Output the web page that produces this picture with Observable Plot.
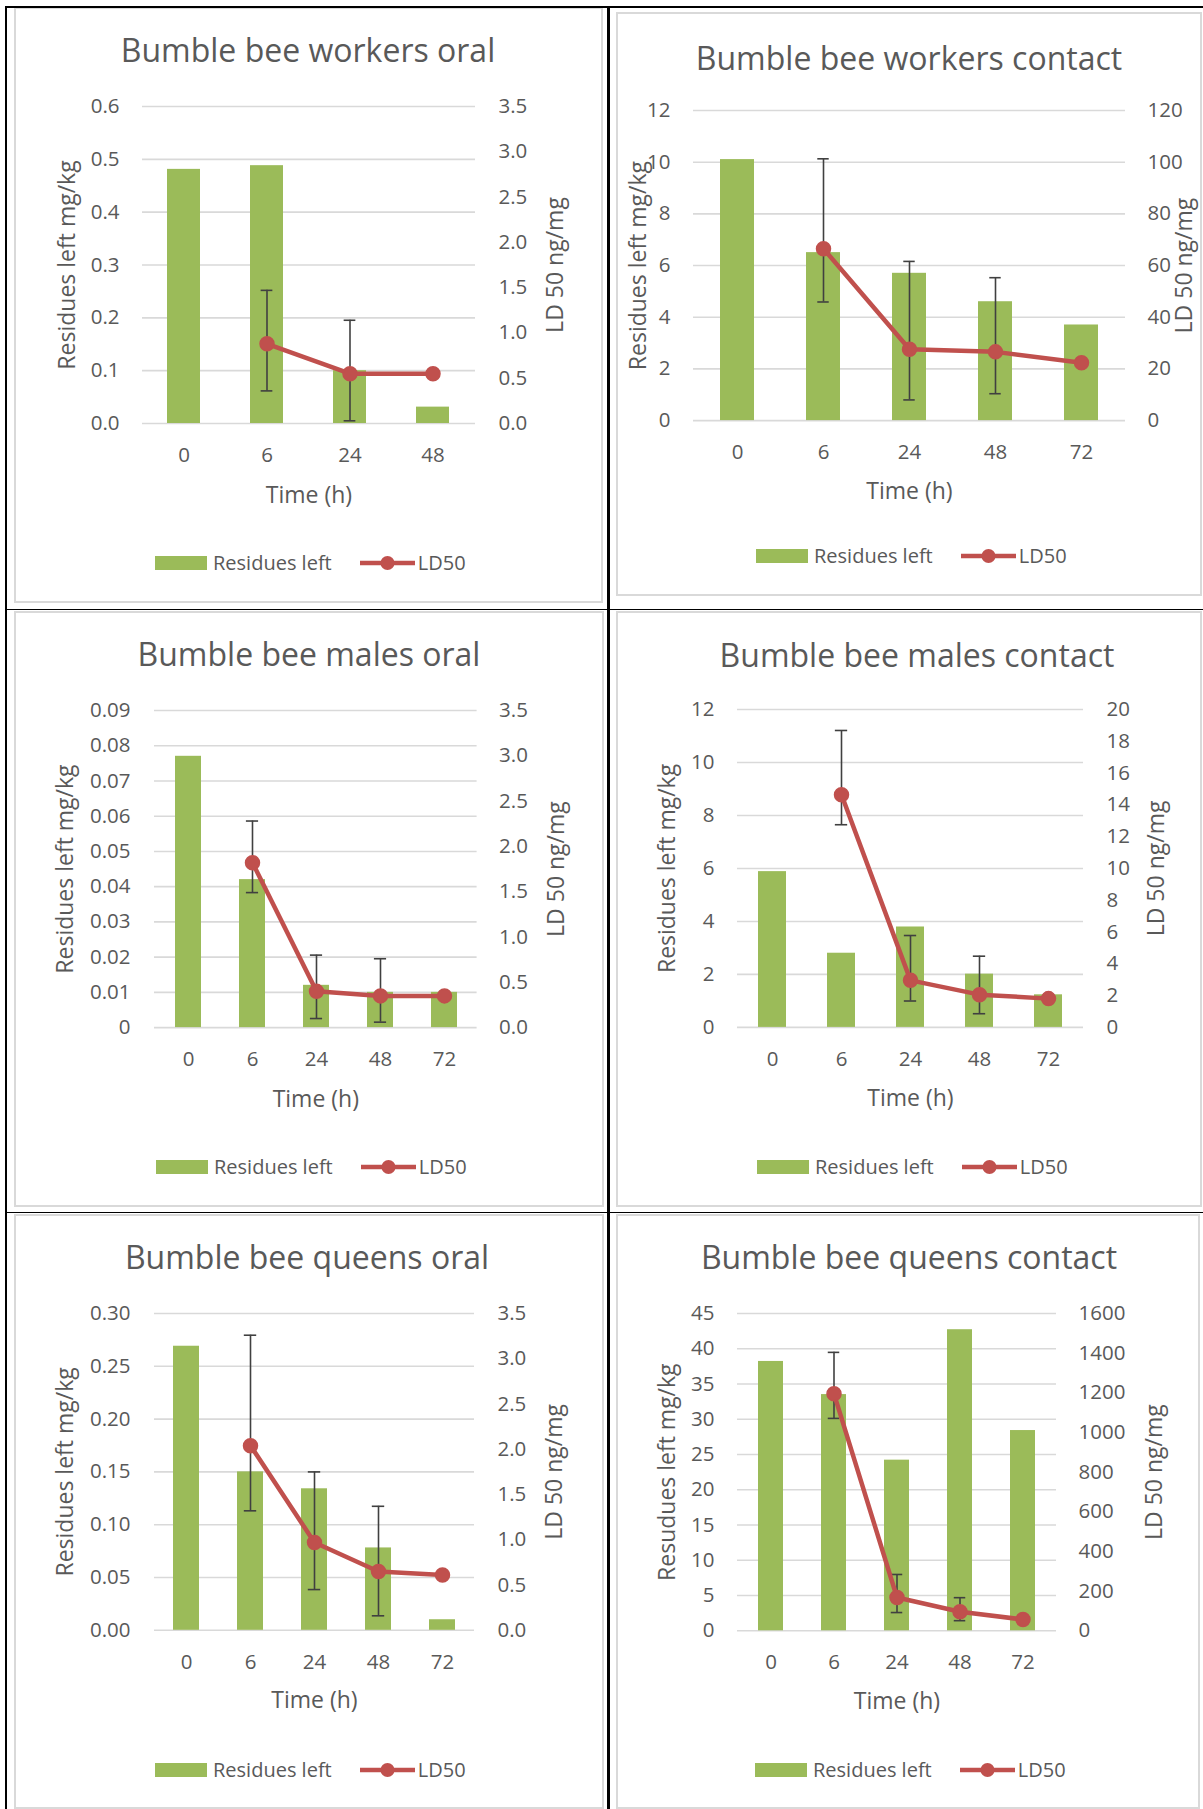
<!DOCTYPE html>
<html><head><meta charset="utf-8">
<script src="https://cdn.jsdelivr.net/npm/d3@7"></script>
<script src="https://cdn.jsdelivr.net/npm/@observablehq/plot@0.6"></script>
<style>
body{margin:0;background:#fff;}
#page{position:relative;width:1203px;height:1809px;overflow:hidden;font-family:"Open Sans",sans-serif;color:#595959;}
.frame{position:absolute;border:2px solid #d9d9d9;box-sizing:border-box;}
.bline{position:absolute;background:#000;}
.title{position:absolute;width:600px;text-align:center;font-size:32px;line-height:32px;white-space:nowrap;}
.legend{position:absolute;display:flex;align-items:center;height:20px;font-size:20px;line-height:20px;white-space:nowrap;}
.plotbox{position:absolute;}
.plotbox svg{max-width:none !important;}
</style></head><body><div id="page"></div>
<script>
// ---------- data ----------
const times4 = ["0", "6", "24", "48"];
const times5 = ["0", "6", "24", "48", "72"];

const workersOralResidues = [0.481, 0.488, 0.100, 0.031];
const workersOralLD50     = [null, 0.88, 0.55, 0.55];
const workersOralLow      = [null, 0.36, 0.03, null];
const workersOralHigh     = [null, 1.47, 1.14, null];

const workersContactResidues = [10.1, 6.5, 5.7, 4.6, 3.7];
const workersContactLD50     = [null, 66.5, 27.6, 26.6, 22.4];
const workersContactLow      = [null, 45.9, 8.0, 10.4, null];
const workersContactHigh     = [null, 101.3, 61.6, 55.3, null];

const malesOralResidues = [0.077, 0.042, 0.012, 0.010, 0.010];
const malesOralLD50     = [null, 1.82, 0.40, 0.35, 0.35];
const malesOralLow      = [null, 1.49, 0.10, 0.06, null];
const malesOralHigh     = [null, 2.28, 0.80, 0.76, null];

const malesContactResidues = [5.88, 2.80, 3.79, 2.01, 1.23];
const malesContactLD50     = [null, 14.64, 2.96, 2.06, 1.81];
const malesContactLow      = [null, 12.75, 1.66, 0.86, null];
const malesContactHigh     = [null, 18.68, 5.78, 4.48, null];

const queensOralResidues = [0.269, 0.150, 0.134, 0.078, 0.010];
const queensOralLD50     = [null, 2.04, 0.97, 0.65, 0.61];
const queensOralLow      = [null, 1.32, 0.45, 0.16, null];
const queensOralHigh     = [null, 3.26, 1.75, 1.37, null];

const queensContactResidues = [38.2, 33.5, 24.2, 42.7, 28.4];
const queensContactLD50     = [null, 1195, 168, 96, 57];
const queensContactLow      = [null, 1071, 92, 51, null];
const queensContactHigh     = [null, 1404, 284, 167, null];

// tick values and labels
const ticks06 = [0, 0.1, 0.2, 0.3, 0.4, 0.5, 0.6];
const labels06 = ["0.0", "0.1", "0.2", "0.3", "0.4", "0.5", "0.6"];
const ticks35 = [0, 0.5, 1, 1.5, 2, 2.5, 3, 3.5];
const labels35 = ["0.0", "0.5", "1.0", "1.5", "2.0", "2.5", "3.0", "3.5"];
const ticks12 = [0, 2, 4, 6, 8, 10, 12];
const labels12 = ["0", "2", "4", "6", "8", "10", "12"];
const ticks120 = [0, 20, 40, 60, 80, 100, 120];
const labels120 = ["0", "20", "40", "60", "80", "100", "120"];
const ticks009 = [0, 0.01, 0.02, 0.03, 0.04, 0.05, 0.06, 0.07, 0.08, 0.09];
const labels009 = ["0", "0.01", "0.02", "0.03", "0.04", "0.05", "0.06", "0.07", "0.08", "0.09"];
const ticks20 = [0, 2, 4, 6, 8, 10, 12, 14, 16, 18, 20];
const labels20 = ["0", "2", "4", "6", "8", "10", "12", "14", "16", "18", "20"];
const ticks030 = [0, 0.05, 0.1, 0.15, 0.2, 0.25, 0.3];
const labels030 = ["0.00", "0.05", "0.10", "0.15", "0.20", "0.25", "0.30"];
const ticks45 = [0, 5, 10, 15, 20, 25, 30, 35, 40, 45];
const labels45 = ["0", "5", "10", "15", "20", "25", "30", "35", "40", "45"];
const ticks1600 = [0, 200, 400, 600, 800, 1000, 1200, 1400, 1600];
const labels1600 = ["0", "200", "400", "600", "800", "1000", "1200", "1400", "1600"];

const panels = [
  {title: "Bumble bee workers oral", times: times4, res: workersOralResidues, ld: workersOralLD50, lo: workersOralLow, hi: workersOralHigh,
   leftMax: 0.6, lt: ticks06, ll: labels06, rightMax: 3.5, rt: ticks35, rl: labels35, leftTitle: "Residues left mg/kg"},
  {title: "Bumble bee workers contact", times: times5, res: workersContactResidues, ld: workersContactLD50, lo: workersContactLow, hi: workersContactHigh,
   leftMax: 12, lt: ticks12, ll: labels12, rightMax: 120, rt: ticks120, rl: labels120, leftTitle: "Residues left mg/kg"},
  {title: "Bumble bee males oral", times: times5, res: malesOralResidues, ld: malesOralLD50, lo: malesOralLow, hi: malesOralHigh,
   leftMax: 0.09, lt: ticks009, ll: labels009, rightMax: 3.5, rt: ticks35, rl: labels35, leftTitle: "Residues left mg/kg"},
  {title: "Bumble bee males contact", times: times5, res: malesContactResidues, ld: malesContactLD50, lo: malesContactLow, hi: malesContactHigh,
   leftMax: 12, lt: ticks12, ll: labels12, rightMax: 20, rt: ticks20, rl: labels20, leftTitle: "Residues left mg/kg"},
  {title: "Bumble bee queens oral", times: times5, res: queensOralResidues, ld: queensOralLD50, lo: queensOralLow, hi: queensOralHigh,
   leftMax: 0.3, lt: ticks030, ll: labels030, rightMax: 3.5, rt: ticks35, rl: labels35, leftTitle: "Residues left mg/kg"},
  {title: "Bumble bee queens contact", times: times5, res: queensContactResidues, ld: queensContactLD50, lo: queensContactLow, hi: queensContactHigh,
   leftMax: 45, lt: ticks45, ll: labels45, rightMax: 1600, rt: ticks1600, rl: labels1600, leftTitle: "Resudues left mg/kg"}
];

// ---------- layout (pixels) ----------
const layouts = [
  {gL: 142, gR: 475, gT: 106, gB: 423, lp: 23, rp: 23, xp: 24, llo: 84, rlo: 87, xlo: 79, tX: 308, tB: 62, legX: 155, legB: 571},
  {gL: 693, gR: 1125, gT: 110.1, gB: 420.2, lp: 23, rp: 22, xp: 23.4, llo: 64, rlo: 67, xlo: 78.6, tX: 909, tB: 70, legX: 756, legB: 564},
  {gL: 154, gR: 476.6, gT: 709.7, gB: 1026.8, lp: 24, rp: 22, xp: 24, llo: 97.6, rlo: 87, xlo: 79, tX: 309, tB: 666, legX: 156, legB: 1175},
  {gL: 737, gR: 1083, gT: 709.3, gB: 1027.2, lp: 23, rp: 23, xp: 24, llo: 79, rlo: 81, xlo: 78.6, tX: 917, tB: 667, legX: 757, legB: 1175},
  {gL: 154, gR: 474, gT: 1312.8, gB: 1629.6, lp: 24, rp: 23, xp: 24, llo: 97.6, rlo: 87.5, xlo: 78, tX: 307, tB: 1269, legX: 155, legB: 1778},
  {gL: 737, gR: 1056, gT: 1312.6, gB: 1629.9, lp: 23, rp: 22, xp: 23.7, llo: 79, rlo: 106, xlo: 78, tX: 909, tB: 1269, legX: 755, legB: 1777.5}
];
const frames = [
  [14, 7, 589, 596], [616, 12, 586, 584],
  [14, 611, 590, 596], [616, 611, 586, 596],
  [14, 1214, 590, 595], [616, 1214, 584, 595]
];
const blackLines = [
  [5, 6, 2.4, 1803], [5, 6, 1198, 2], [607, 6, 2.5, 1803], [5, 609, 1198, 1.2], [5, 1212, 1198, 1.4]
];

const GREEN = "#9bbb59", RED = "#c0504d", GRID = "#d9d9d9", TEXT = "#595959", ERR = "#404040";
const page = document.getElementById("page");

function addDiv(cls, x, y, w, h) {
  const d = document.createElement("div");
  d.className = cls;
  d.style.left = x + "px"; d.style.top = y + "px";
  if (w != null) d.style.width = w + "px";
  if (h != null) d.style.height = h + "px";
  page.appendChild(d);
  return d;
}

frames.forEach(([x, y, w, h]) => addDiv("frame", x, y, w, h));
blackLines.forEach(([x, y, w, h]) => addDiv("bline", x, y, w, h));

const mL = 140, mR = 140, mT = 20, mB = 110;

panels.forEach((p, k) => {
  const L = layouts[k];
  const W = (L.gR - L.gL) + mL + mR, H = (L.gB - L.gT) + mT + mB;
  const rows = p.times.map((t, i) => ({time: t, res: p.res[i], ld: p.ld[i], lo: p.lo[i], hi: p.hi[i]}));
  const ldRows = rows.filter(d => d.ld != null);
  const errRows = rows.filter(d => d.lo != null && d.hi != null);
  const n = p.times.length;
  const bw = 0.4 * (L.gR - L.gL) / n;
  const capInset = (bw - 12) / 2;
  const xScale = {type: "band", domain: p.times, paddingInner: 0.6, paddingOuter: 0.3};
  const style = {fontFamily: "Open Sans", fontSize: "20.5px", color: TEXT, background: "transparent", overflow: "visible", maxWidth: "none"};
  const leftFmt = d => p.ll[p.lt.indexOf(d)];
  const rightFmt = d => p.rl[p.rt.indexOf(d)];

  const barsPlot = Plot.plot({
    width: W, height: H, marginLeft: mL, marginRight: mR, marginTop: mT, marginBottom: mB,
    style,
    x: xScale,
    y: {domain: [0, p.leftMax]},
    marks: [
      Plot.gridY(p.lt, {stroke: GRID, strokeOpacity: 1, strokeWidth: 1.6}),
      Plot.barY(rows, {x: "time", y: "res", fill: GREEN}),
      Plot.axisY(p.lt, {anchor: "left", tickSize: 0, tickPadding: L.lp, tickFormat: leftFmt, label: null}),
      Plot.axisY([], {anchor: "left", label: p.leftTitle, labelAnchor: "center", labelArrow: false, labelOffset: L.llo, fontSize: 23}),
      Plot.axisX({anchor: "bottom", tickSize: 0, tickPadding: L.xp, label: null}),
      Plot.axisX([], {anchor: "bottom", label: "Time (h)", labelAnchor: "center", labelArrow: false, labelOffset: L.xlo, fontSize: 23})
    ]
  });

  const linePlot = Plot.plot({
    width: W, height: H, marginLeft: mL, marginRight: mR, marginTop: mT, marginBottom: mB,
    style,
    x: {...xScale, axis: null},
    y: {domain: [0, p.rightMax]},
    marks: [
      Plot.ruleX(errRows, {x: "time", y1: "lo", y2: "hi", stroke: ERR, strokeWidth: 1.6}),
      Plot.tickY(errRows, {x: "time", y: "lo", stroke: ERR, strokeWidth: 1.6, insetLeft: capInset, insetRight: capInset}),
      Plot.tickY(errRows, {x: "time", y: "hi", stroke: ERR, strokeWidth: 1.6, insetLeft: capInset, insetRight: capInset}),
      Plot.line(ldRows, {x: "time", y: "ld", stroke: RED, strokeWidth: 4.5}),
      Plot.dot(ldRows, {x: "time", y: "ld", r: 7, fill: RED, stroke: RED}),
      Plot.axisY(p.rt, {anchor: "right", tickSize: 0, tickPadding: L.rp, tickFormat: rightFmt, label: null}),
      Plot.axisY([], {anchor: "right", label: "LD 50 ng/mg", labelAnchor: "center", labelArrow: false, labelOffset: L.rlo, fontSize: 23})
    ]
  });

  [barsPlot, linePlot].forEach(svg => {
    const box = addDiv("plotbox", L.gL - mL, L.gT - mT, W, H);
    box.appendChild(svg);
  });

  const t = addDiv("title", L.tX - 300, L.tB - 28.4);
  t.textContent = p.title;

  const leg = addDiv("legend", L.legX, L.legB - 17.8);
  leg.innerHTML =
    `<span style="display:inline-block;width:52px;height:14px;background:${GREEN};margin-right:6px"></span>` +
    `<span>Residues left</span>` +
    `<svg width="55" height="20" style="margin-left:28px;margin-right:3px;overflow:visible"><line x1="0" y1="10" x2="55" y2="10" stroke="${RED}" stroke-width="4.5"/><circle cx="27.5" cy="10" r="7" fill="${RED}"/></svg>` +
    `<span>LD50</span>`;
});
</script>
</body></html>
